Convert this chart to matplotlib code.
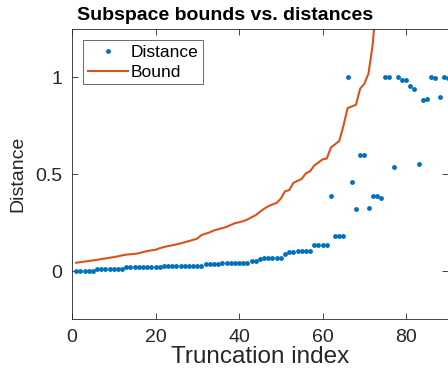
import matplotlib
matplotlib.use('Agg')
import matplotlib.pyplot as plt
import numpy as np

plt.rcParams['font.family'] = ['Liberation Sans', 'DejaVu Sans']

# distance between subspaces for each truncation index
distance = [0.002, 0.002, 0.002, 0.002, 0.002,
            0.010, 0.010, 0.010, 0.010, 0.010, 0.010, 0.010,
            0.019, 0.019, 0.019, 0.019, 0.019, 0.019, 0.019, 0.019, 0.019,
            0.027, 0.027, 0.027, 0.027, 0.027, 0.027, 0.027, 0.027, 0.027, 0.027,
            0.034, 0.034, 0.034, 0.034,
            0.043, 0.043, 0.043, 0.043, 0.043, 0.043, 0.043,
            0.053, 0.053, 0.062,
            0.070, 0.070, 0.070, 0.070, 0.070,
            0.088, 0.096, 0.096,
            0.105, 0.105, 0.105, 0.105,
            0.135, 0.135, 0.135, 0.135,
            0.387, 0.182, 0.182, 0.182,
            1.000, 0.459, 0.321, 0.598, 0.598, 0.326, 0.388, 0.388, 0.376,
            1.000, 1.000, 0.538, 1.000, 0.985, 0.985, 0.955, 0.938, 0.553,
            0.881, 0.888, 1.000, 0.995, 0.897, 1.000, 0.995]

# the bound for the same indices
bound = [0.043, 0.046, 0.049, 0.052, 0.055, 0.058, 0.062, 0.065, 0.069, 0.072,
         0.076, 0.081, 0.085, 0.087, 0.089, 0.092, 0.098, 0.103, 0.107, 0.110,
         0.118, 0.124, 0.129, 0.133, 0.138, 0.143, 0.149, 0.155, 0.161, 0.168,
         0.186, 0.193, 0.200, 0.210, 0.216, 0.222, 0.228, 0.238, 0.247, 0.252,
         0.258, 0.266, 0.278, 0.289, 0.306, 0.322, 0.335, 0.344, 0.352, 0.374,
         0.412, 0.418, 0.455, 0.466, 0.476, 0.505, 0.515, 0.545, 0.560, 0.577,
         0.581, 0.638, 0.655, 0.672, 0.750, 0.842, 0.850, 0.859, 0.942, 0.967,
         1.020, 1.170, 1.420, 1.650, 1.900, 2.200, 2.500, 2.900, 3.300, 3.800,
         4.300, 4.900, 5.600, 6.400, 7.300, 8.300, 9.500, 10.800, 12.300, 14.000]

idx = np.arange(1, len(distance) + 1)

blue = '#0072BD'
orange = '#D95319'
dark = '#262626'

fig = plt.figure(figsize=(4.48, 3.79), dpi=100)
ax = fig.add_axes([0.1607, 0.157, 0.839, 0.7665])

ax.plot(idx, distance, 'o', color=blue, markersize=3.5, markeredgewidth=0, label='Distance')
ax.plot(np.arange(1, len(bound) + 1), bound, '-', color=orange, lw=1.5, label='Bound')

ax.set_xlim(0, 90)
ax.set_ylim(-0.25, 1.25)
ax.set_xticks([0, 20, 40, 60, 80])
ax.set_yticks([0, 0.5, 1])
ax.set_yticklabels(['0', '0.5', '1'])
ax.tick_params(direction='in', top=True, right=True, labelsize=14,
               length=4, width=0.6, colors=dark, pad=7)
for s in ax.spines.values():
    s.set_color(dark)
    s.set_linewidth(0.6)

ax.set_xlabel('Truncation index', fontsize=17.5, color=dark, labelpad=0)
ax.set_ylabel('Distance', fontsize=14, color=dark, labelpad=6)
ax.text(0.408, 1.031, 'Subspace bounds vs. distances', transform=ax.transAxes,
        ha='center', va='baseline', fontsize=14, fontweight='bold')

leg = ax.legend(loc='upper left', fontsize=12.5, frameon=True, fancybox=False,
                edgecolor=dark, borderpad=0.25, handlelength=2.3,
                handletextpad=0.2, borderaxespad=0.65, labelspacing=0.3)
leg.get_frame().set_linewidth(0.6)

fig.savefig('out.png', dpi=100)
